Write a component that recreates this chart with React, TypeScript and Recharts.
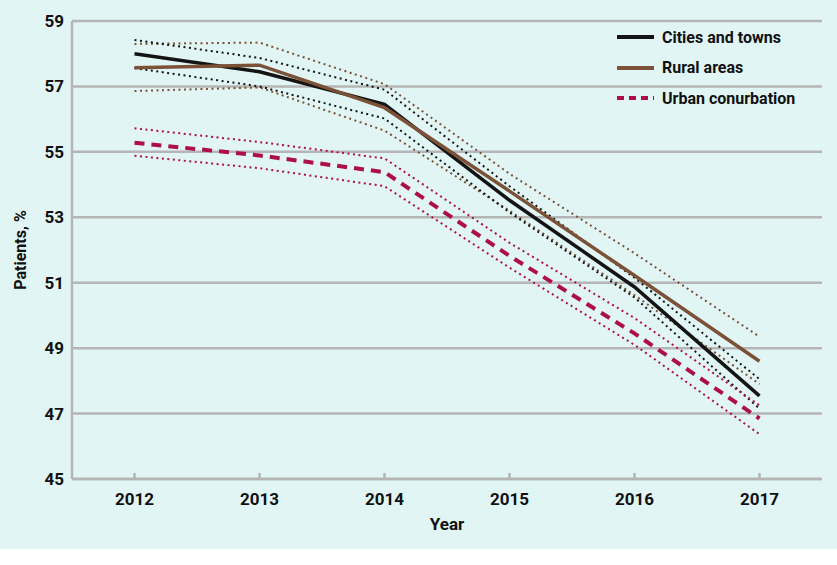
import { LineChart, Line, XAxis, YAxis, CartesianGrid } from "recharts"

const years = ["2012", "2013", "2014", "2015", "2016", "2017"]
const yTicks = [45, 47, 49, 51, 53, 55, 57, 59]

const cities = [58.0, 57.45, 56.45, 53.52, 50.87, 47.54]
const citiesHigh = [58.42, 57.87, 56.9, 53.95, 51.15, 48.05]
const citiesLow = [57.56, 57.0, 56.02, 53.15, 50.55, 47.15]

const rural = [57.57, 57.65, 56.35, 53.8, 51.22, 48.6]
const ruralHigh = [58.3, 58.34, 57.07, 54.33, 51.9, 49.35]
const ruralLow = [56.86, 56.97, 55.65, 53.2, 50.62, 47.9]

const urban = [55.28, 54.89, 54.38, 51.82, 49.45, 46.85]
const urbanHigh = [55.72, 55.3, 54.8, 52.22, 49.92, 47.25]
const urbanLow = [54.88, 54.5, 53.95, 51.46, 49.1, 46.37]

const BG = "#e1f5f4"
const GRID = "#b5b5b5"
const BLACK = "#141414"
const BROWN = "#7b5237"
const CRIMSON = "#ad0f4b"
const FONT = "Roboto, 'Liberation Sans', sans-serif"

const data = years.map((year, i) => ({
  year,
  cities: cities[i],
  citiesHigh: citiesHigh[i],
  citiesLow: citiesLow[i],
  rural: rural[i],
  ruralHigh: ruralHigh[i],
  ruralLow: ruralLow[i],
  urban: urban[i],
  urbanHigh: urbanHigh[i],
  urbanLow: urbanLow[i],
}))

const legendItems = [
  { label: "Cities and towns", color: BLACK, dash: undefined },
  { label: "Rural areas", color: BROWN, dash: undefined },
  { label: "Urban conurbation", color: CRIMSON, dash: "7 5" },
]

function XTick({ x, y, payload }: any) {
  return (
    <g>
      <line x1={x} x2={x} y1={y - 8} y2={y - 14} stroke={GRID} strokeWidth={2.5} />
      <text x={x} y={y} dy={18} textAnchor="middle" fill="#111" fontSize={17} fontWeight={700} fontFamily={FONT}>
        {payload.value}
      </text>
    </g>
  )
}

function LegendBox() {
  return (
    <div
      style={{
        position: "absolute",
        left: 617,
        top: 22,
        width: 210,
        fontFamily: FONT,
        fontWeight: 700,
        fontSize: 16,
        color: "#111",
      }}
    >
      {legendItems.map((item) => (
        <div key={item.label} style={{ display: "flex", alignItems: "center", height: 30.5 }}>
          <svg width={45} height={10}>
            <line x1={0} x2={37} y1={5} y2={5} stroke={item.color} strokeWidth={4} strokeDasharray={item.dash} />
          </svg>
          <span>{item.label}</span>
        </div>
      ))}
    </div>
  )
}

function YLabel({ viewBox }: any) {
  const cx = viewBox.x + 8
  const cy = viewBox.y + viewBox.height / 2
  return (
    <text
      x={cx}
      y={cy}
      transform={`rotate(-90, ${cx}, ${cy})`}
      textAnchor="middle"
      dominantBaseline="central"
      fill="#111"
      fontSize={16}
      fontWeight={700}
      fontFamily={FONT}
    >
      Patients, %
    </text>
  )
}

export default function App() {
  const dotted = { strokeWidth: 2, strokeDasharray: "2 3.5", dot: false, activeDot: false, isAnimationActive: false }
  return (
    <div style={{ position: "absolute", left: 0, top: 0, width: 837, height: 549, background: BG }}>
      <LineChart width={837} height={549} data={data} margin={{ top: 21, right: 15, left: 12, bottom: 0 }}>
        <CartesianGrid vertical={false} stroke={GRID} strokeWidth={2.5} />
        <XAxis
          dataKey="year"
          height={70}
          padding={{ left: 62.5, right: 62.5 }}
          axisLine={{ stroke: GRID, strokeWidth: 2.5 }}
          tickLine={false}
          tick={<XTick />}
          label={{ value: "Year", position: "insideBottom", offset: 19, fill: "#111", fontSize: 17, fontWeight: 700, fontFamily: FONT }}
        />
        <YAxis
          width={60}
          domain={[45, 59]}
          ticks={yTicks}
          interval={0}
          axisLine={{ stroke: GRID, strokeWidth: 2.5 }}
          tickLine={false}
          tick={{ fill: "#111", fontSize: 17, fontWeight: 700, fontFamily: FONT }}
          label={<YLabel />}
        />
        <Line dataKey="ruralHigh" stroke={BROWN} {...dotted} />
        <Line dataKey="ruralLow" stroke={BROWN} {...dotted} />
        <Line dataKey="citiesHigh" stroke={BLACK} {...dotted} />
        <Line dataKey="citiesLow" stroke={BLACK} {...dotted} />
        <Line dataKey="urbanHigh" stroke={CRIMSON} {...dotted} />
        <Line dataKey="urbanLow" stroke={CRIMSON} {...dotted} />
        <Line dataKey="cities" name="Cities and towns" stroke={BLACK} strokeWidth={3.5} dot={false} isAnimationActive={false} />
        <Line dataKey="rural" name="Rural areas" stroke={BROWN} strokeWidth={3.5} dot={false} isAnimationActive={false} />
        <Line dataKey="urban" name="Urban conurbation" stroke={CRIMSON} strokeWidth={4} strokeDasharray="10 7" dot={false} isAnimationActive={false} />
      </LineChart>
      <LegendBox />
    </div>
  )
}
